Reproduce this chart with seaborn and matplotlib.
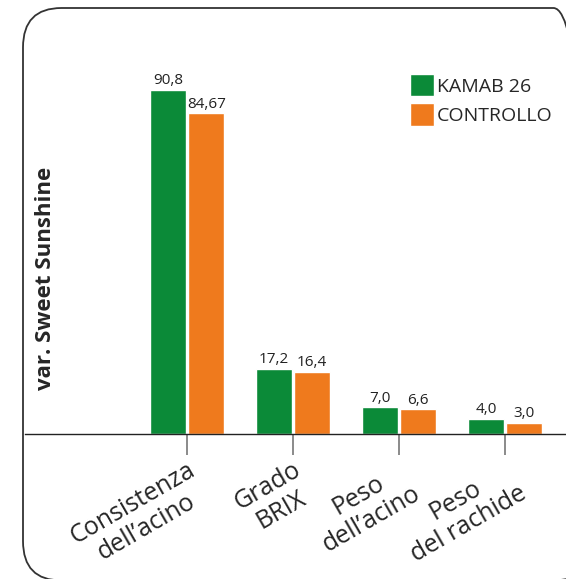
import pandas as pd
import numpy as np
import matplotlib
matplotlib.use("Agg")
import matplotlib.pyplot as plt
import seaborn as sns
from matplotlib.patches import FancyBboxPatch

# data
categories = ["Consistenza\ndell\u2019acino", "Grado\nBRIX", "Peso\ndell\u2019acino", "Peso\ndel rachide"]
kamab = [90.8, 17.2, 7.0, 4.0]
controllo = [84.67, 16.4, 6.6, 3.0]
series_names = ["KAMAB 26", "CONTROLLO"]
colors = ["#0b8a38", "#ef7a1d"]

df = pd.DataFrame({
    "cat": categories * 2,
    "val": kamab + controllo,
    "serie": [series_names[0]] * 4 + [series_names[1]] * 4,
})

sns.set_style("white")
plt.rcParams['font.family'] = ['Open Sans', 'DejaVu Sans']

fig = plt.figure(figsize=(5.66, 5.79), dpi=100)
ax = fig.add_axes([25 / 566, 145 / 579, (566 - 25) / 566, 379 / 579])
ax.patch.set_visible(False)

sns.barplot(data=df, x="cat", y="val", hue="serie", palette=colors,
            width=0.72, gap=0.05, saturation=1, ax=ax, legend=True)

ax.set_ylim(0, 100)
ax.set_xlim(-1.53, 3.575)

# value labels with comma decimals
for cont, vals in zip(ax.containers, [kamab, controllo]):
    ax.bar_label(cont, labels=[str(v).replace(".", ",") for v in vals],
                 fontsize=11, padding=1, color="#222222")

for s in ["top", "right", "left"]:
    ax.spines[s].set_visible(False)
ax.spines["bottom"].set_color("#222222")
ax.spines["bottom"].set_linewidth(1.0)

ax.set_yticks([])
ax.set_xlabel("")
ax.set_ylabel("var. Sweet Sunshine", fontsize=16, fontweight="bold")
ax.yaxis.set_label_coords(0.058, 0.41)
ax.tick_params(axis="x", bottom=True, length=15, width=1.2, color="#777777", pad=2)
plt.setp(ax.get_xticklabels(), rotation=30, ha="right", va="top",
         rotation_mode="anchor", multialignment="center", fontsize=18,
         linespacing=1.1)

leg = ax.legend(loc="upper left", bbox_to_anchor=(0.68, 0.996), frameon=False,
                fontsize=14, handlelength=1.2, handleheight=1.4,
                handletextpad=0.15, labelspacing=0.35)

# rounded frame (right and bottom sides run off the picture)
frame = FancyBboxPatch((23 / 566, -1.5 / 579), (592 - 23) / 566, (571 + 1.5) / 579,
                       boxstyle="round,pad=0,rounding_size=0.068",
                       transform=fig.transFigure, fill=False,
                       edgecolor="#333333", linewidth=1.3, clip_on=False)
fig.patches.append(frame)

fig.savefig("out.png", dpi=100)
